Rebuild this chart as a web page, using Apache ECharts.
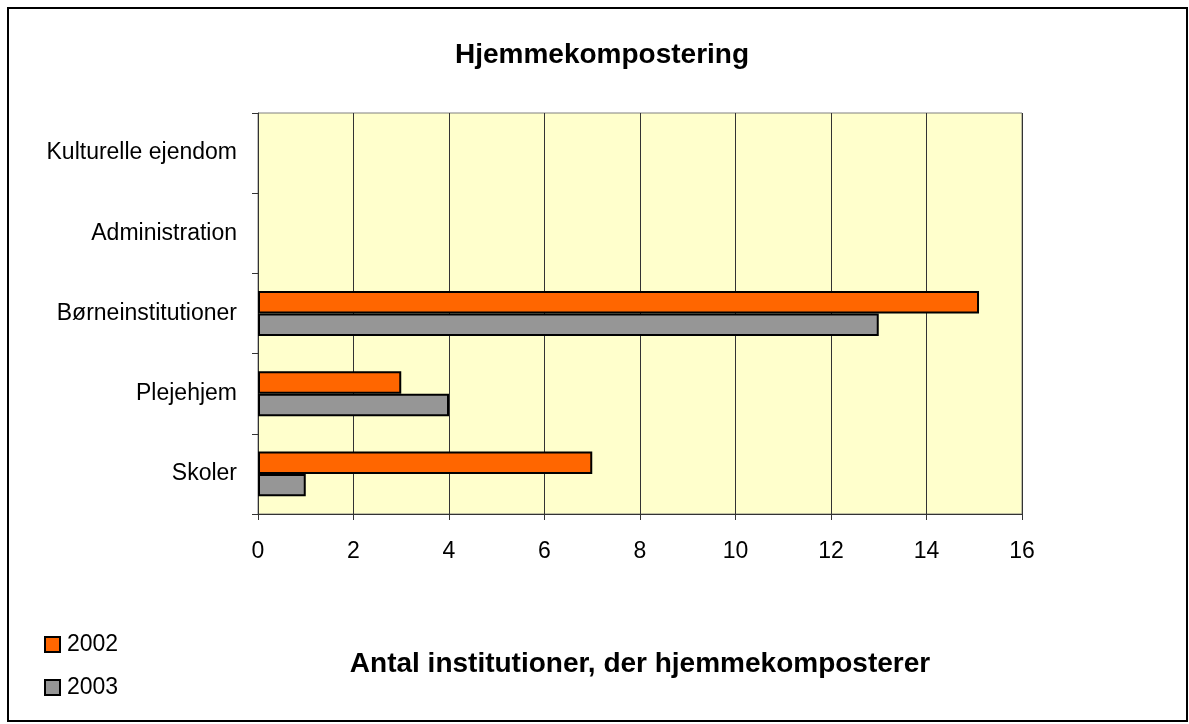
<!DOCTYPE html>
<html>
<head>
<meta charset="utf-8">
<script src="https://cdn.jsdelivr.net/npm/echarts@6/dist/echarts.min.js"></script>
<style>
    html, body { margin: 0; padding: 0; background: #fff; }
    #chart { width: 1189px; height: 724px; }
</style>
</head>
<body>
<div id="chart"></div>
<script>
const categories = ['Skoler', 'Plejehjem', 'Børneinstitutioner', 'Administration', 'Kulturelle ejendom'];
const values2002 = [7, 3, 15.1, 0, 0];
const values2003 = [1, 4, 13, 0, 0];
const seriesNames = ['2002', '2003'];

const chart = echarts.init(document.getElementById('chart'));
const font = 'Liberation Sans, Arial, sans-serif';

// zero-length bars should not leave a border stroke on the axis
function barData(values) {
    return values.map(v => v === 0 ? { value: v, itemStyle: { borderWidth: 0 } } : v);
}

const option = {
    animation: false,
    backgroundColor: '#ffffff',
    title: {
        text: 'Hjemmekompostering',
        left: 597,
        top: 36,
        textAlign: 'center',
        textStyle: { fontFamily: font, fontSize: 28, fontWeight: 'bold', color: '#000' }
    },
    legend: {
        data: seriesNames,
        orient: 'vertical',
        left: 39,
        top: 628,
        itemWidth: 15,
        itemHeight: 15,
        itemGap: 20,
        icon: 'rect',
        textStyle: { fontFamily: font, fontSize: 23, color: '#000', padding: [0, 0, 0, 2] }
    },
    grid: {
        left: 258,
        right: 167,
        top: 113,
        bottom: 210,
        show: true,
        backgroundColor: '#FFFFCC',
        borderColor: '#808080',
        borderWidth: 1
    },
    xAxis: {
        type: 'value',
        min: 0,
        max: 16,
        interval: 2,
        name: 'Antal institutioner, der hjemmekomposterer',
        nameLocation: 'middle',
        nameGap: 136,
        nameTextStyle: { fontFamily: font, fontSize: 28, fontWeight: 'bold', color: '#000' },
        axisLine: { show: true, lineStyle: { color: '#333', width: 1 } },
        axisTick: { show: true, length: 6, lineStyle: { color: '#333' } },
        axisLabel: { fontFamily: font, fontSize: 23, color: '#000', margin: 26 },
        splitLine: { show: true, lineStyle: { color: '#333', width: 1 } }
    },
    yAxis: {
        type: 'category',
        data: categories,
        axisLine: { show: true, lineStyle: { color: '#333', width: 1 } },
        axisTick: { show: true, length: 6, lineStyle: { color: '#333' } },
        axisLabel: { fontFamily: font, fontSize: 23, color: '#000', margin: 21 },
        splitLine: { show: false }
    },
    series: [
        {
            name: '2002',
            type: 'bar',
            data: barData(values2002),
            barGap: '0%',
            barCategoryGap: '44%',
            itemStyle: { color: '#FF6600', borderColor: '#000', borderWidth: 2 }
        },
        {
            name: '2003',
            type: 'bar',
            data: barData(values2003),
            itemStyle: { color: '#969696', borderColor: '#000', borderWidth: 2 }
        }
    ],
    graphic: [
        {
            type: 'rect',
            shape: { x: 8, y: 8, width: 1179, height: 713 },
            style: { fill: 'none', stroke: '#000', lineWidth: 2 },
            silent: true
        }
    ]
};

chart.setOption(option);
</script>
</body>
</html>
